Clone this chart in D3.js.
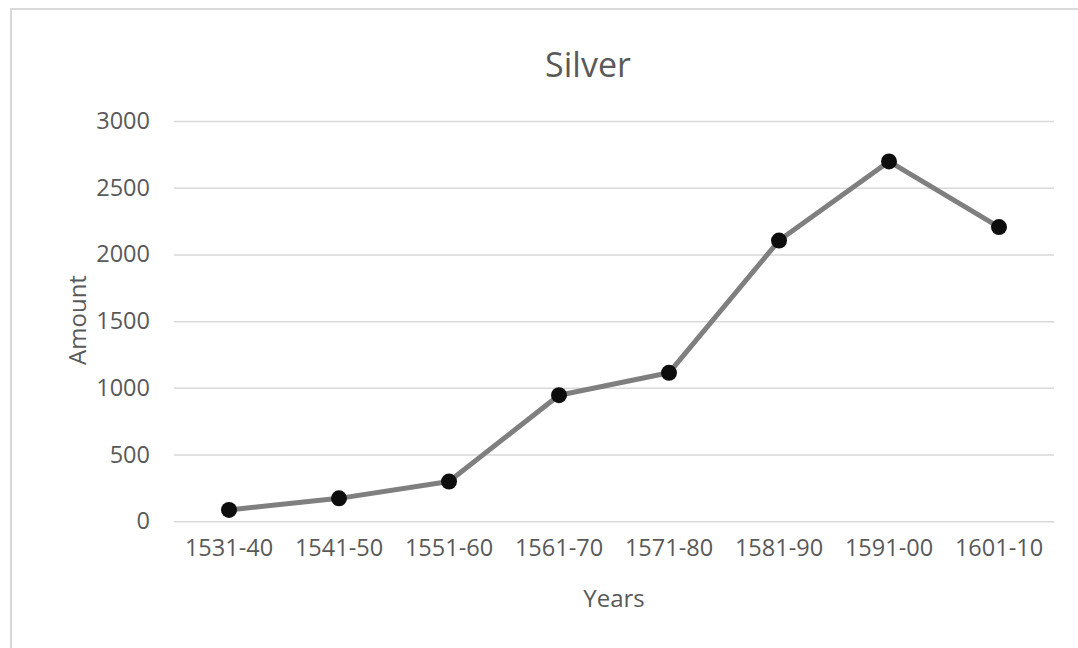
<!DOCTYPE html>
<html>
<head>
<meta charset="utf-8">
<script src="https://cdn.jsdelivr.net/npm/d3@7"></script>
<style>
  body { margin: 0; background: #fff; }
  svg text { font-family: "Open Sans", sans-serif; fill: #595959; }
</style>
</head>
<body>
<div id="container"></div>
<script>
// data
const periods = ["1531-40", "1541-50", "1551-60", "1561-70", "1571-80", "1581-90", "1591-00", "1601-10"];
const amounts = [85, 172, 298, 945, 1113, 2104, 2697, 2205];
const yTicks = [0, 500, 1000, 1500, 2000, 2500, 3000];

const w = 1078;
const h = 648;
const padLeft = 174, padRight = 1054, padTop = 121, padBottom = 521.3;

const svg = d3.select("#container")
  .append("svg")
  .attr("width", w)
  .attr("height", h);

//chart frame (only left and top edges are in view)
svg.append("path")
  .attr("d", `M11,${h} V9 H${w}`)
  .attr("fill", "none")
  .attr("stroke", "#d9d9d9")
  .attr("stroke-width", 2);

//THE SCALES
const xScale = d3.scaleBand()
  .domain(periods)
  .range([padLeft, padRight]);

const yScale = d3.scaleLinear()
  .domain([0, 3000])
  .range([padBottom, padTop]);

//gridlines
svg.append("g")
  .attr("transform", `translate(${padLeft}, 0)`)
  .call(d3.axisLeft(yScale).tickValues(yTicks).tickSize(-(padRight - padLeft)).tickFormat(""))
  .call(g => g.select(".domain").remove())
  .call(g => g.selectAll("line").attr("stroke", "#d9d9d9").attr("stroke-width", 1.5));

//y axis labels
svg.append("g")
  .attr("transform", `translate(${padLeft}, 0)`)
  .call(d3.axisLeft(yScale).tickValues(yTicks).tickFormat(d3.format("d")).tickSize(0).tickPadding(24))
  .call(g => g.select(".domain").remove())
  .call(g => g.selectAll("text").style("font-size", "23.5px").attr("fill", "#595959"));

//x axis labels
svg.append("g")
  .attr("transform", `translate(0, ${padBottom})`)
  .call(d3.axisBottom(xScale).tickSize(0).tickPadding(18))
  .call(g => g.select(".domain").remove())
  .call(g => g.selectAll("text").style("font-size", "23.5px").attr("fill", "#595959"));

//the line
const line = d3.line()
  .x((d, i) => xScale(periods[i]) + xScale.bandwidth() / 2)
  .y(d => yScale(d));

svg.append("path")
  .datum(amounts)
  .attr("d", line)
  .attr("fill", "none")
  .attr("stroke", "#7f7f7f")
  .attr("stroke-width", 5)
  .attr("stroke-linejoin", "round");

svg.selectAll("circle")
  .data(amounts)
  .enter()
  .append("circle")
  .attr("cx", (d, i) => xScale(periods[i]) + xScale.bandwidth() / 2)
  .attr("cy", d => yScale(d))
  .attr("r", 8)
  .attr("fill", "#0d0d0d");

//titles
svg.append("text")
  .attr("x", 588)
  .attr("y", 77)
  .attr("text-anchor", "middle")
  .style("font-size", "34px")
  .text("Silver");

svg.append("text")
  .attr("x", (padLeft + padRight) / 2)
  .attr("y", 607)
  .attr("text-anchor", "middle")
  .style("font-size", "24px")
  .text("Years");

svg.append("text")
  .attr("transform", "translate(86, 320) rotate(-90)")
  .attr("text-anchor", "middle")
  .style("font-size", "24px")
  .text("Amount");
</script>
</body>
</html>
